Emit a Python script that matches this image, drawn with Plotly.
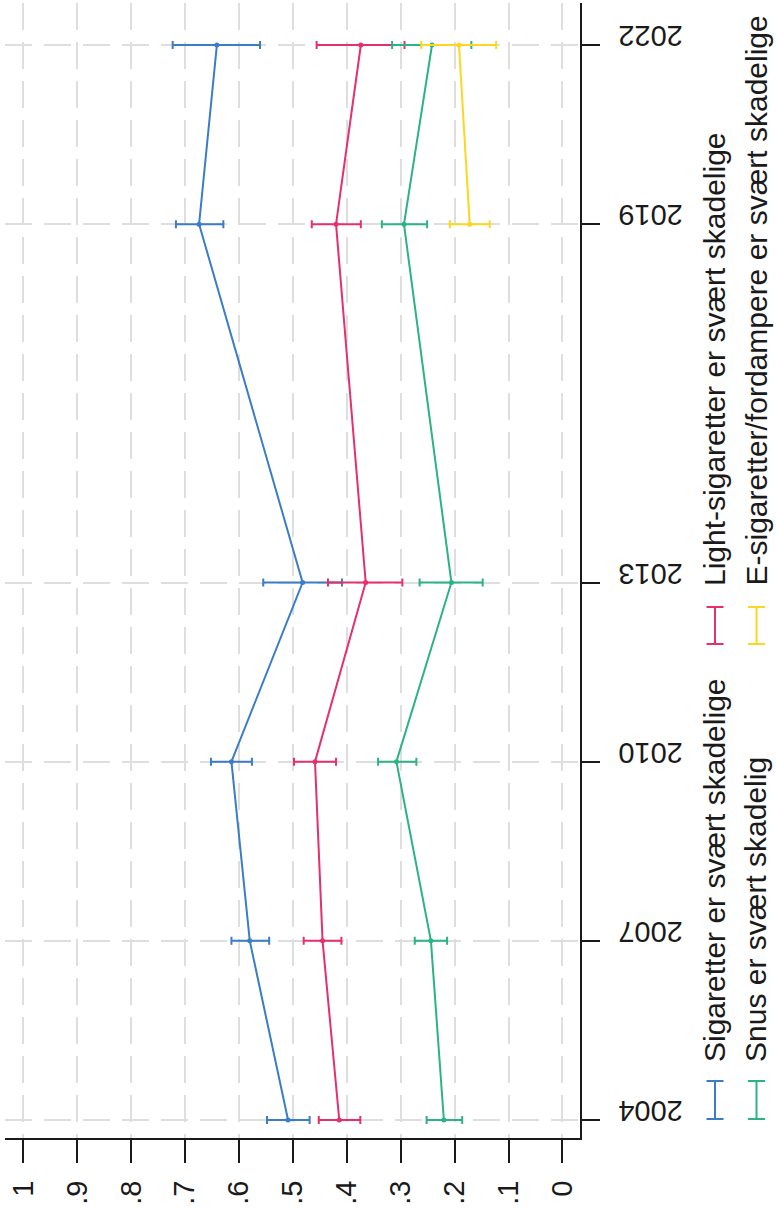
import plotly.graph_objects as go

# Share who consider each product very harmful, with 95% confidence intervals
years = [2004, 2007, 2010, 2013, 2019, 2022]

sig = [0.509, 0.580, 0.614, 0.482, 0.674, 0.641]
sig_lo = [0.469, 0.544, 0.576, 0.409, 0.629, 0.561]
sig_hi = [0.548, 0.614, 0.652, 0.555, 0.717, 0.723]

light = [0.414, 0.445, 0.459, 0.365, 0.420, 0.374]
light_lo = [0.375, 0.410, 0.420, 0.297, 0.374, 0.293]
light_hi = [0.452, 0.480, 0.498, 0.435, 0.465, 0.456]

snus = [0.220, 0.244, 0.308, 0.206, 0.294, 0.242]
snus_lo = [0.186, 0.214, 0.271, 0.148, 0.251, 0.169]
snus_hi = [0.252, 0.274, 0.342, 0.265, 0.335, 0.316]

ecig_years = [2019, 2022]
ecig = [0.172, 0.192]
ecig_lo = [0.135, 0.123]
ecig_hi = [0.209, 0.262]

value_ticks = [0, 0.1, 0.2, 0.3, 0.4, 0.5, 0.6, 0.7, 0.8, 0.9, 1]
value_labels = ["0", ".1", ".2", ".3", ".4", ".5", ".6", ".7", ".8", ".9", "1"]

labels = [
    "Sigaretter er svært skadelige",
    "Light-sigaretter er svært skadelige",
    "Snus er svært skadelig",
    "E-sigaretter/fordampere er svært skadelige",
]
colors = ["#3a7cc5", "#e5306b", "#2bb383", "#fdd523"]

FONT = "Liberation Sans"
W, H = 776, 1210
ML, MR, MT, MB = 5, 196, 3, 72
PW, PH = W - ML - MR, H - MT - MB


def px_x(px):
    return (px - ML) / PW


def px_y(py):
    return (H - MB - py) / PH


fig = go.Figure()

series = [
    (years, sig, sig_lo, sig_hi),
    (years, light, light_lo, light_hi),
    (years, snus, snus_lo, snus_hi),
    (ecig_years, ecig, ecig_lo, ecig_hi),
]
for (yrs, v, lo, hi), name, col in zip(series, labels, colors):
    fig.add_trace(go.Scatter(
        x=v, y=yrs, name=name, mode="lines+markers",
        line=dict(color=col, width=2),
        marker=dict(color=col, size=5),
        error_x=dict(
            type="data", symmetric=False,
            array=[h - m for h, m in zip(hi, v)],
            arrayminus=[m - l for m, l in zip(v, lo)],
            color=col, thickness=2, width=4,
        ),
        showlegend=False,
    ))

# Legend drawn as rotated text with capped-bar keys
legend_cols = [715, 756.5]
legend_rows = [(1081, 1119, 1064), (607, 644, 588)]
slots = [(0, 0), (0, 1), (1, 0), (1, 1)]
shapes = []
annotations = []
for (ci, ri), name, col in zip(slots, labels, colors):
    cx = legend_cols[ci]
    y0, y1, ytxt = legend_rows[ri]
    shapes.append(dict(type="line", xref="paper", yref="paper",
                       x0=px_x(cx), x1=px_x(cx), y0=px_y(y0), y1=px_y(y1),
                       line=dict(color=col, width=2)))
    for yy in (y0, y1):
        shapes.append(dict(type="line", xref="paper", yref="paper",
                           x0=px_x(cx - 8.5), x1=px_x(cx + 8.5),
                           y0=px_y(yy), y1=px_y(yy),
                           line=dict(color=col, width=2)))
    annotations.append(dict(
        text=name, xref="paper", yref="paper",
        x=px_x(cx - 1), y=px_y(ytxt), xanchor="center", yanchor="bottom",
        textangle=-90, showarrow=False,
        font=dict(family=FONT, size=30, color="#1a1a1a"),
    ))

fig.update_layout(
    width=W, height=H,
    margin=dict(l=ML, r=MR, t=MT, b=MB, pad=0),
    paper_bgcolor="white", plot_bgcolor="white",
    shapes=shapes, annotations=annotations,
    xaxis=dict(
        range=[1.034, -0.0325],
        tickmode="array", tickvals=value_ticks, ticktext=value_labels,
        tickangle=-90, ticks="outside", ticklen=23, tickwidth=2, tickcolor="#1a1a1a",
        ticklabelstandoff=6,
        showline=True, linecolor="#1a1a1a", linewidth=2,
        showgrid=True, gridcolor="#dedede", gridwidth=1.6, griddash="27px,12px",
        zeroline=False,
        tickfont=dict(family=FONT, size=29, color="#1a1a1a"),
    ),
    yaxis=dict(
        range=[2003.699, 2022.703], side="right",
        tickmode="array", tickvals=years, ticktext=[str(y) for y in years],
        tickangle=180, ticks="outside", ticklen=18, tickwidth=2, tickcolor="#1a1a1a",
        ticklabelstandoff=77,
        showline=True, linecolor="#1a1a1a", linewidth=2,
        showgrid=True, gridcolor="#dedede", gridwidth=1.6, griddash="27px,12px",
        zeroline=False,
        tickfont=dict(family=FONT, size=29, color="#1a1a1a"),
    ),
)

fig.write_html("out.html")
